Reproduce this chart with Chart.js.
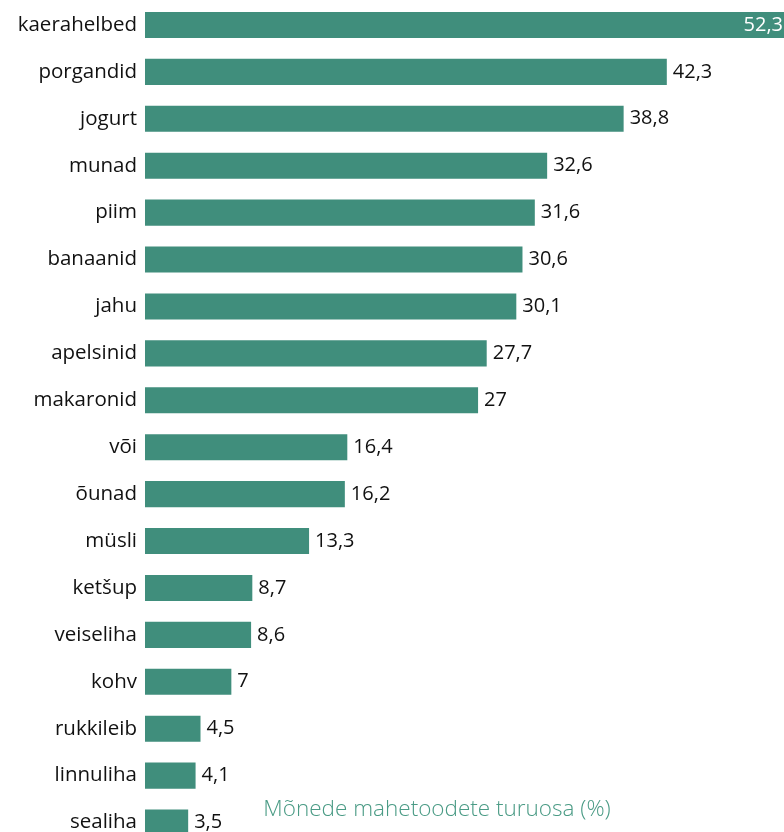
<!DOCTYPE html>
<html>
<head>
<meta charset="utf-8">
<script src="https://cdn.jsdelivr.net/npm/chart.js@4/dist/chart.umd.min.js"></script>
<style>
  html, body { margin: 0; padding: 0; overflow: hidden; background: #fff; }
  canvas { display: block; }
</style>
</head>
<body>
<canvas id="barChart" width="784" height="846"></canvas>
<script>
// Andmed
var tooted = ['kaerahelbed', 'porgandid', 'jogurt', 'munad', 'piim', 'banaanid', 'jahu', 'apelsinid',
  'makaronid', 'või', 'õunad', 'müsli', 'ketšup', 'veiseliha', 'kohv', 'rukkileib', 'linnuliha', 'sealiha'];
var turuosa = [52.3, 42.3, 38.8, 32.6, 31.6, 30.6, 30.1, 27.7, 27, 16.4, 16.2, 13.3, 8.7, 8.6, 7, 4.5, 4.1, 3.5];
var pealkiri = 'Mõnede mahetoodete turuosa (%)';

var barColor = '#408e7c';
var fontFamily = '"Open Sans", "Noto Sans", sans-serif';

// Väärtuste sildid ribade otsas + pealkiri
var valueLabels = {
    id: 'valueLabels',
    afterDatasetsDraw: function(chart) {
        var ctx = chart.ctx;
        var area = chart.chartArea;
        var meta = chart.getDatasetMeta(0);
        ctx.save();
        ctx.font = '20px ' + fontFamily;
        ctx.textBaseline = 'middle';
        meta.data.forEach(function(bar, i) {
            var txt = String(turuosa[i]).replace('.', ',');
            var w = ctx.measureText(txt).width;
            if (bar.x + 6 + w > area.right) {
                ctx.fillStyle = '#ffffff';
                ctx.textAlign = 'right';
                ctx.fillText(txt, area.right - 1, bar.y);
            } else {
                ctx.fillStyle = '#111111';
                ctx.textAlign = 'left';
                ctx.fillText(txt, bar.x + 6, bar.y);
            }
        });
        // pealkiri
        ctx.font = '300 22.5px ' + fontFamily;
        ctx.fillStyle = '#4a9b85';
        ctx.textAlign = 'center';
        ctx.fillText(pealkiri, area.left + (area.right - area.left) * 0.457, area.top + (area.bottom - area.top) * 0.957);
        ctx.restore();
    }
};

var ctx = document.getElementById('barChart').getContext('2d');
var myChart = new Chart(ctx, {
    type: 'bar',
    data: {
        labels: tooted,
        datasets: [{
            data: turuosa,
            backgroundColor: barColor,
            borderWidth: 0,
            categoryPercentage: 1,
            barPercentage: 0.555
        }]
    },
    options: {
        responsive: false,
        indexAxis: 'y',
        animation: false,
        layout: { padding: { top: 1.5, bottom: 0, left: 0, right: 0 } },
        plugins: {
            legend: { display: false },
            tooltip: { enabled: false }
        },
        scales: {
            x: {
                display: false,
                min: 0,
                max: 51.8
            },
            y: {
                grid: { display: false, drawTicks: false },
                border: { display: false },
                ticks: {
                    color: '#111111',
                    padding: 8,
                    font: { size: 20.5, family: fontFamily }
                },
                afterFit: function(scale) {
                    scale.width = 145;
                    scale.paddingTop = 0;
                    scale.paddingBottom = 0;
                }
            }
        }
    },
    plugins: [valueLabels]
});
</script>
</body>
</html>
